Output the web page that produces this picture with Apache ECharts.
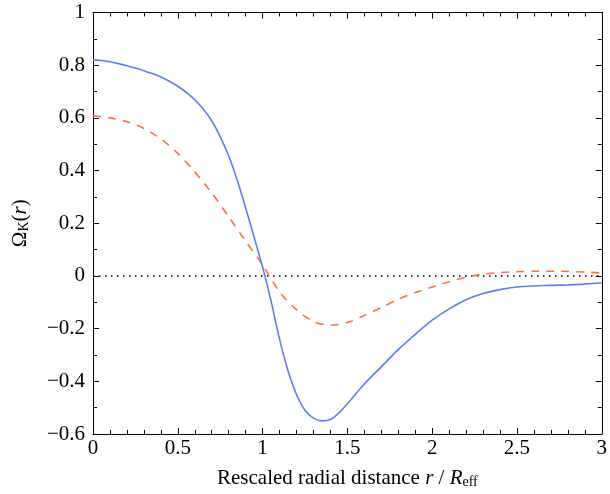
<!DOCTYPE html>
<html><head><meta charset="utf-8">
<script src="https://cdn.jsdelivr.net/npm/echarts@6/dist/echarts.min.js"></script>
<style>html,body{margin:0;padding:0;background:#fff}#c{width:610px;height:494px}</style>
</head><body><div id="c"></div>
<script>
const rBlue = [0,0.05,0.1,0.15,0.2,0.25,0.3,0.35,0.4,0.45,0.5,0.55,0.6,0.65,0.7,0.75,0.8,0.85,0.9,0.95,1.0,1.05,1.1,1.15,1.2,1.25,1.3,1.35,1.4,1.45,1.5,1.6,1.7,1.8,1.9,2.0,2.1,2.2,2.3,2.4,2.5,2.6,2.7,2.8,2.9,3.0];
const vBlue = [0.82,0.818,0.813,0.806,0.798,0.789,0.779,0.768,0.755,0.739,0.72,0.697,0.669,0.634,0.589,0.529,0.456,0.364,0.259,0.147,0.034,-0.095,-0.24,-0.36,-0.45,-0.51,-0.54,-0.55,-0.545,-0.52,-0.485,-0.41,-0.345,-0.28,-0.222,-0.168,-0.125,-0.09,-0.067,-0.052,-0.042,-0.038,-0.036,-0.034,-0.031,-0.026];
const rOrange = [0,0.1,0.2,0.3,0.4,0.5,0.6,0.7,0.8,0.9,1.0,1.1,1.2,1.3,1.4,1.5,1.6,1.7,1.8,1.9,2.0,2.1,2.2,2.3,2.4,2.5,2.6,2.7,2.8,2.9,3.0];
const vOrange = [0.608,0.6,0.585,0.56,0.52,0.465,0.395,0.315,0.225,0.132,0.042,-0.06,-0.128,-0.173,-0.187,-0.177,-0.15,-0.12,-0.088,-0.063,-0.042,-0.022,-0.005,0.007,0.013,0.016,0.018,0.018,0.017,0.015,0.011];
const zeroLine = [[0,0],[3,0]];
const xTicks = {min:0, max:3, interval:0.5};
const yTicks = {min:-0.6, max:1, interval:0.2};

const font = 'Liberation Serif';
const fs = 21;
const fmt = v => { const s = String(Math.round(v*10)/10); return s.replace('-', '\u2212'); };
function pair(arrX, arrY){ return arrX.map((x,i)=>[x, arrY[i]]); }
const axisLine = {show:true, onZero:false, lineStyle:{color:'#000', width:1}};
const axisTick = {show:true, inside:true, length:6, lineStyle:{color:'#000', width:1}};
const rich = {
  n:{fontFamily:font, fontSize:fs, color:'#000'},
  i:{fontFamily:font, fontSize:fs, fontStyle:'italic', color:'#000'},
  s:{fontFamily:font, fontSize:14, color:'#000', verticalAlign:'bottom', padding:[8,0,0,0]}
};
const chart = echarts.init(document.getElementById('c'), null, {renderer:'canvas'});
chart.setOption({
  animation:false,
  backgroundColor:'#fff',
  grid:{left:93, right:6, top:12.5, bottom:56, containLabel:false},
  xAxis:[
    {type:'value', position:'bottom', min:xTicks.min, max:xTicks.max, interval:xTicks.interval,
      axisLabel:{color:'#000', fontFamily:font, fontSize:fs, margin:4, formatter:fmt},
      axisLine:axisLine, axisTick:axisTick, splitLine:{show:false},
      minorTick:{show:true, splitNumber:5, length:4, lineStyle:{color:'#000'}},
      name:'{n|Rescaled radial distance }{i|r}{n| / }{i|R}{s|eff}', nameLocation:'middle', nameGap:33,
      nameTextStyle:{fontFamily:font, color:'#000', rich:rich}
    },
    {type:'value', position:'top', min:xTicks.min, max:xTicks.max, interval:xTicks.interval,
      axisLabel:{show:false}, axisLine:axisLine, axisTick:axisTick,
      minorTick:{show:true, splitNumber:5, length:4, lineStyle:{color:'#000'}}, splitLine:{show:false}}
  ],
  yAxis:[
    {type:'value', position:'left', min:yTicks.min, max:yTicks.max, interval:yTicks.interval,
      axisLabel:{color:'#000', fontFamily:font, fontSize:fs, margin:8, formatter:fmt},
      axisLine:axisLine, axisTick:axisTick,
      minorTick:{show:true, splitNumber:2, length:4, lineStyle:{color:'#000'}}, splitLine:{show:false},
      name:'{n|\u03A9}{s|K}{n|(}{i|r}{n|)}', nameLocation:'middle', nameGap:62, nameRotate:90,
      nameTextStyle:{fontFamily:font, color:'#000', rich:rich}
    },
    {type:'value', position:'right', min:yTicks.min, max:yTicks.max, interval:yTicks.interval,
      axisLabel:{show:false}, axisLine:axisLine, axisTick:axisTick,
      minorTick:{show:true, splitNumber:2, length:4, lineStyle:{color:'#000'}}, splitLine:{show:false}}
  ],
  series:[
    {type:'line', data:zeroLine, symbol:'none', lineStyle:{color:'#000', width:1.5, type:[1.5,4.5]}, z:1},
    {type:'line', data:pair(rOrange, vOrange), symbol:'none', smooth:0.3, lineStyle:{color:'#ff6e3f', width:1.6, type:[8,7]}, z:2},
    {type:'line', data:pair(rBlue, vBlue), symbol:'none', smooth:0.3, lineStyle:{color:'#5a7ff2', width:1.6}, z:3}
  ]
});
</script></body></html>
